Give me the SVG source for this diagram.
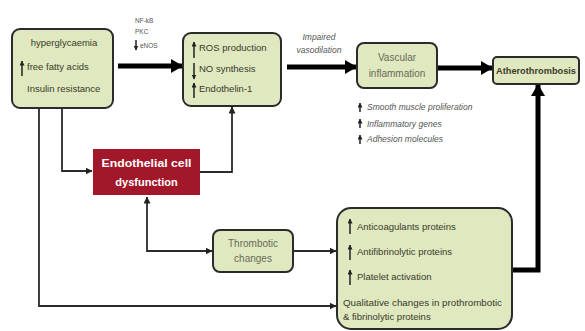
<svg xmlns="http://www.w3.org/2000/svg" width="585" height="331" viewBox="0 0 585 331">
<defs>
<style>
.box{fill:#dfe8bf;stroke:#2b2b2b;stroke-width:2}
.t{font-family:"Liberation Sans",Arial,sans-serif;fill:#3a3a2a;font-size:9.5px}
.g{font-family:"Liberation Sans",Arial,sans-serif;fill:#6a6a5a;font-size:10px}
.sm{font-family:"Liberation Sans",Arial,sans-serif;fill:#555;font-size:6.5px}
.it{font-family:"Liberation Sans",Arial,sans-serif;fill:#555;font-size:8.5px;font-style:italic}
.thick{fill:none;stroke:#000;stroke-width:5}
.thin{fill:none;stroke:#2b2b2b;stroke-width:1.8}
.ua{stroke:#222;stroke-width:1.5}
</style>
<marker id="big" markerUnits="userSpaceOnUse" markerWidth="12" markerHeight="14" refX="11" refY="7" orient="auto">
<path d="M0,0 L12,7 L0,14 Z" fill="#000"/>
</marker>
<marker id="sm" markerUnits="userSpaceOnUse" markerWidth="7" markerHeight="7" refX="6.5" refY="3.5" orient="auto">
<path d="M0,0 L7,3.5 L0,7 Z" fill="#222"/>
</marker>
<marker id="smr" markerUnits="userSpaceOnUse" markerWidth="7" markerHeight="7" refX="0.5" refY="3.5" orient="auto">
<path d="M7,0 L0,3.5 L7,7 Z" fill="#222"/>
</marker>
<marker id="tip" markerUnits="userSpaceOnUse" markerWidth="5" markerHeight="5" refX="4.5" refY="2.5" orient="auto">
<path d="M0,0 L5,2.5 L0,5 Z" fill="#222"/>
</marker>
</defs>
<rect width="585" height="331" fill="#fff"/>

<g id="connectors">
<path class="thick" d="M118,66 H182" marker-end="url(#big)"/>
<path class="thick" d="M287,67 H356" marker-end="url(#big)"/>
<path class="thick" d="M437,68 H492" marker-end="url(#big)"/>
<path class="thick" d="M512,270 H538 V85" stroke-width="4" marker-end="url(#big)"/>
<path class="thin" d="M62,108 V171 H92" marker-end="url(#sm)"/>
<path class="thin" d="M200,172 H232 V107" marker-end="url(#sm)"/>
<path class="thin" d="M39,108 V306 H336" marker-end="url(#sm)"/>
<path class="thin" d="M147,197 V251 H212" marker-start="url(#smr)" marker-end="url(#sm)"/>
<path class="thin" d="M293,251 H336" marker-end="url(#sm)"/>
</g>

<g id="label-nfkb">
<text class="sm" x="135" y="23">NF-kB</text>
<text class="sm" x="135" y="34">PKC</text>
<line class="ua" x1="136" y1="40" x2="136" y2="50" marker-end="url(#tip)"/>
<text class="sm" x="140" y="48">eNOS</text>
</g>

<g id="label-vaso">
<text class="it" x="319" y="40" text-anchor="middle" font-size="7.2">Impaired</text>
<text class="it" x="319" y="53" text-anchor="middle" font-size="7.2">vasodilation</text>
</g>

<g id="node-hyper">
<rect class="box" x="12" y="29" width="101" height="79" rx="8"/>
<text class="t" x="64" y="46" text-anchor="middle">hyperglycaemia</text>
<line class="ua" x1="22" y1="76" x2="22" y2="61" marker-end="url(#tip)"/>
<text class="t" x="27" y="70">free fatty acids</text>
<text class="t" x="27" y="92">Insulin resistance</text>
</g>

<g id="node-ros">
<rect class="box" x="183" y="33" width="98" height="73" rx="8"/>
<line class="ua" x1="194" y1="58" x2="194" y2="42" marker-end="url(#tip)"/>
<text class="t" x="199" y="51">ROS production</text>
<line class="ua" x1="194" y1="63" x2="194" y2="79" marker-end="url(#tip)"/>
<text class="t" x="199" y="72">NO synthesis</text>
<line class="ua" x1="194" y1="98" x2="194" y2="83" marker-end="url(#tip)"/>
<text class="t" x="199" y="92">Endothelin-1</text>
</g>

<g id="node-vascular">
<rect class="box" x="357" y="43" width="80" height="45" rx="7"/>
<text class="g" x="397" y="61" text-anchor="middle" font-size="10.5">Vascular</text>
<text class="g" x="397" y="77" text-anchor="middle" font-size="10.5">inflammation</text>
</g>

<g id="list-vascular">
<line class="ua" x1="360" y1="112" x2="360" y2="103" marker-end="url(#tip)"/>
<text class="it" x="367" y="110">Smooth muscle proliferation</text>
<line class="ua" x1="360" y1="128" x2="360" y2="119" marker-end="url(#tip)"/>
<text class="it" x="367" y="127">Inflammatory genes</text>
<line class="ua" x1="360" y1="144" x2="360" y2="135" marker-end="url(#tip)"/>
<text class="it" x="367" y="142">Adhesion molecules</text>
</g>

<g id="node-athero">
<rect class="box" x="493" y="57" width="86" height="27" rx="4"/>
<text class="t" x="536" y="74" text-anchor="middle" font-weight="bold" font-size="9" textLength="80" lengthAdjust="spacingAndGlyphs" fill="#222">Atherothrombosis</text>
</g>

<g id="node-endo">
<rect x="93" y="149" width="107" height="46" fill="#a3172b"/>
<text x="146.5" y="167" text-anchor="middle" font-family="Liberation Sans,Arial,sans-serif" font-weight="bold" font-size="11" fill="#fff" textLength="90" lengthAdjust="spacingAndGlyphs">Endothelial cell</text>
<text x="146.5" y="186" text-anchor="middle" font-family="Liberation Sans,Arial,sans-serif" font-weight="bold" font-size="11" fill="#fff">dysfunction</text>
</g>

<g id="node-thrombotic">
<rect class="box" x="213" y="230" width="80" height="42" rx="7"/>
<text class="g" x="253" y="247" text-anchor="middle" font-size="9.5">Thrombotic</text>
<text class="g" x="253" y="262" text-anchor="middle" font-size="9.5">changes</text>
</g>

<g id="node-bottom">
<rect class="box" x="337" y="208" width="175" height="121" rx="14"/>
<line class="ua" x1="350" y1="234" x2="350" y2="219" marker-end="url(#tip)"/>
<text class="t" x="357" y="230">Anticoagulants proteins</text>
<line class="ua" x1="350" y1="260" x2="350" y2="245" marker-end="url(#tip)"/>
<text class="t" x="357" y="255">Antifibrinolytic proteins</text>
<line class="ua" x1="350" y1="285" x2="350" y2="270" marker-end="url(#tip)"/>
<text class="t" x="357" y="280">Platelet activation</text>
<text class="t" x="343" y="306" font-size="9" textLength="159" lengthAdjust="spacingAndGlyphs">Qualitative changes in prothrombotic</text>
<text class="t" x="343" y="320" font-size="9">&amp; fibrinolytic proteins</text>
</g>
</svg>
